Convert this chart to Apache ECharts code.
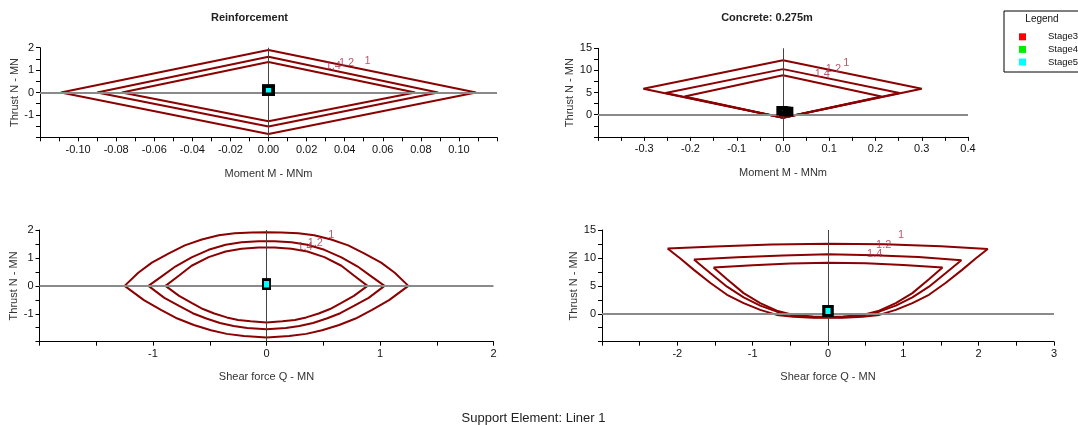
<!DOCTYPE html>
<html><head><meta charset="utf-8">
<script src="https://cdn.jsdelivr.net/npm/echarts@6/dist/echarts.min.js"></script>
<style>html,body{margin:0;padding:0;background:#fff}#c{width:1078px;height:425px}</style>
</head><body><div id="c"></div>
<script>
// ---------------- data ----------------
const stageNames = ['Stage3', 'Stage4', 'Stage5'];
const fsLabels = ['1', '1.2', '1.4'];

// Reinforcement: Moment M (MNm) vs Thrust N (MN)
const reinfMN_fs1  = [[0,1.90],[0.109,0],[0,-1.85],[-0.109,0],[0,1.90]];
const reinfMN_fs12 = [[0,1.60],[0.089,0],[0,-1.52],[-0.090,0],[0,1.60]];
const reinfMN_fs14 = [[0,1.36],[0.077,0],[0,-1.28],[-0.077,0],[0,1.36]];
const reinfMN_stage = [[0,0.10],[0,0.10],[0,0.10]];
const reinfMN_fsPos = [[0.052,1.42],[0.041,1.32],[0.034,1.20]];

// Concrete: Moment M (MNm) vs Thrust N (MN)
const concMN_fs1  = [[0,12.3],[0.300,5.85],[0,-0.7],[-0.302,5.85],[0,12.3]];
const concMN_fs12 = [[0,10.3],[0.252,4.9],[0,-0.7],[-0.254,4.9],[0,10.3]];
const concMN_fs14 = [[0,8.9],[0.213,4.1],[0,-0.7],[-0.213,4.1],[0,8.9]];
const concMN_stage = [[0.010,0.7],[0.004,0.8],[-0.002,0.9]];
const concMN_fsPos = [[0.137,11.8],[0.109,10.25],[0.085,9.2]];

// Reinforcement: Shear force Q (MN) vs Thrust N (MN)
const reinfQN_fs1 = [[-1.25,0],[-1.13,0.47],[-1.01,0.83],[-0.86,1.16],[-0.72,1.45],[-0.57,1.66],[-0.42,1.81],[-0.28,1.88],[-0.13,1.91],[0,1.92],[0.13,1.91],[0.28,1.88],[0.42,1.81],[0.57,1.66],[0.72,1.45],[0.86,1.16],[1.01,0.83],[1.13,0.47],[1.25,0],
  [1.08,-0.51],[0.93,-0.86],[0.785,-1.17],[0.64,-1.40],[0.49,-1.59],[0.35,-1.72],[0.2,-1.80],[0,-1.85],[-0.2,-1.80],[-0.35,-1.72],[-0.49,-1.59],[-0.64,-1.40],[-0.785,-1.17],[-0.93,-0.86],[-1.08,-0.51],[-1.25,0]];
const reinfQN_fs12 = [[-1.04,0],[-0.92,0.35],[-0.80,0.70],[-0.66,1.02],[-0.51,1.29],[-0.36,1.47],[-0.22,1.56],[-0.07,1.60],[0.07,1.60],[0.22,1.56],[0.36,1.47],[0.51,1.29],[0.66,1.02],[0.80,0.70],[0.92,0.35],[1.04,0],
  [0.90,-0.43],[0.77,-0.72],[0.65,-0.98],[0.53,-1.17],[0.41,-1.33],[0.29,-1.44],[0.17,-1.51],[0,-1.55],[-0.17,-1.51],[-0.29,-1.44],[-0.41,-1.33],[-0.53,-1.17],[-0.65,-0.98],[-0.77,-0.72],[-0.90,-0.43],[-1.04,0]];
const reinfQN_fs14 = [[-0.89,0],[-0.77,0.37],[-0.66,0.72],[-0.51,1.03],[-0.36,1.23],[-0.22,1.33],[-0.07,1.37],[0.07,1.37],[0.22,1.33],[0.36,1.23],[0.51,1.03],[0.66,0.72],[0.77,0.37],[0.89,0],
  [0.77,-0.36],[0.66,-0.61],[0.56,-0.83],[0.46,-0.99],[0.35,-1.13],[0.25,-1.22],[0.14,-1.27],[0,-1.31],[-0.14,-1.27],[-0.25,-1.22],[-0.35,-1.13],[-0.46,-0.99],[-0.56,-0.83],[-0.66,-0.61],[-0.77,-0.36],[-0.89,0]];
const reinfQN_stage = [[0,0.06],[0,0.06],[0,0.06]];
const reinfQN_fsPos = [[0.57,1.82],[0.43,1.54],[0.34,1.40]];

// Concrete: Shear force Q (MN) vs Thrust N (MN)
const concQN_fs1 = [[-2.13,11.7],[-1.5,12.05],[-0.75,12.4],[0,12.55],[0.75,12.45],[1.5,12.1],[2.12,11.6],
  [1.96,9.9],[1.78,7.86],[1.56,5.5],[1.34,3.4],[1.12,1.9],[0.9,0.7],[0.68,-0.2],[0.46,-0.55],[0.2,-0.7],[0,-0.7],[-0.2,-0.7],[-0.46,-0.55],[-0.68,-0.2],[-0.9,0.7],[-1.12,1.9],[-1.34,3.4],[-1.56,5.5],[-1.78,7.86],[-1.96,9.9],[-2.13,11.7]];
const concQN_fs12 = [[-1.78,9.7],[-1.2,10.1],[-0.6,10.45],[0,10.65],[0.6,10.5],[1.2,10.15],[1.77,9.6],
  [1.56,7.25],[1.34,4.85],[1.12,2.95],[0.9,1.45],[0.68,0.38],[0.46,-0.3],[0.2,-0.6],[0,-0.62],[-0.2,-0.6],[-0.46,-0.3],[-0.68,0.38],[-0.9,1.45],[-1.12,2.95],[-1.34,4.85],[-1.56,7.25],[-1.78,9.7]];
const concQN_fs14 = [[-1.52,8.3],[-1.0,8.7],[-0.5,9.0],[0,9.15],[0.5,9.05],[1.0,8.75],[1.52,8.3],
  [1.34,6.2],[1.12,3.7],[0.9,1.9],[0.68,0.55],[0.46,-0.2],[0.2,-0.5],[0,-0.52],[-0.2,-0.5],[-0.46,-0.2],[-0.68,0.55],[-0.9,1.9],[-1.12,3.7],[-1.34,6.2],[-1.52,8.3]];
const concQN_stage = [[0,0.5],[0,0.5],[0,0.5]];
const concQN_fsPos = [[0.97,14.1],[0.74,12.3],[0.62,10.7]];

// ---------------- styling / layout ----------------
const FONT = '"Liberation Sans", Arial, sans-serif';
const stageColors = ['#ff0000', '#00ee00', '#00ffff'];
const envColor = '#8b0000';
const fsColor = '#a8324a';

const chart = echarts.init(document.getElementById('c'), null, {renderer: 'canvas'});

function fmt(d) { return v => (Math.abs(v) < 1e-9 ? 0 : v).toFixed(d); }

function xAxis(gi, min, max, interval, dec, name, showMax, gap) {
  return {
    type: 'value', gridIndex: gi, min, max, interval,
    name, nameLocation: 'middle', nameGap: gap,
    nameTextStyle: {color: '#333', fontSize: 11, fontFamily: FONT},
    axisLine: {onZero: false, lineStyle: {color: '#000', width: 1}},
    axisTick: {length: 4, lineStyle: {color: '#000'}},
    minorTick: {show: true, splitNumber: 2, length: 4, lineStyle: {color: '#000'}},
    splitLine: {show: false}, minorSplitLine: {show: false},
    axisLabel: {showMinLabel: false, showMaxLabel: showMax, formatter: fmt(dec), color: '#111', fontSize: 11, fontFamily: FONT, margin: 7}
  };
}
function yAxis(gi, min, max, interval, gap) {
  return {
    type: 'value', gridIndex: gi, min, max, interval,
    name: 'Thrust N - MN', nameLocation: 'middle', nameGap: gap,
    nameTextStyle: {color: '#333', fontSize: 11, fontFamily: FONT},
    axisLine: {onZero: false, lineStyle: {color: '#000', width: 1}},
    axisTick: {length: 4, lineStyle: {color: '#000'}},
    minorTick: {show: true, splitNumber: 2, length: 4, lineStyle: {color: '#000'}},
    splitLine: {show: false}, minorSplitLine: {show: false},
    axisLabel: {showMinLabel: false, formatter: fmt(0), color: '#111', fontSize: 11, fontFamily: FONT, margin: 6}
  };
}

const series = [];
function addChart(gi, envs, stagePts, fsPos, sym) {
  series.push({
    type: 'line', xAxisIndex: gi, yAxisIndex: gi, data: [], z: 1, silent: true,
    markLine: {silent: true, symbol: ['none', 'none'], label: {show: false}, animation: false,
      data: [
        {xAxis: 0, lineStyle: {color: '#444', width: 1, type: 'solid'}},
        {yAxis: 0, lineStyle: {color: '#8a8a8a', width: 2, type: 'solid'}}
      ]}
  });
  envs.forEach((d, i) => series.push({
    type: 'line', name: 'FS ' + fsLabels[i], xAxisIndex: gi, yAxisIndex: gi, data: d,
    symbol: 'none', showSymbol: false, silent: true, z: 3,
    lineStyle: {color: envColor, width: 2}
  }));
  series.push({
    type: 'scatter', xAxisIndex: gi, yAxisIndex: gi, silent: true, z: 4,
    data: fsPos.map((p, i) => ({value: p, name: fsLabels[i]})),
    symbolSize: 1, itemStyle: {color: 'rgba(0,0,0,0)'},
    label: {show: true, position: 'inside', formatter: '{b}', color: fsColor, fontSize: 11, fontFamily: FONT}
  });
  stagePts.forEach((p, i) => series.push({
    type: 'scatter', name: stageNames[i], xAxisIndex: gi, yAxisIndex: gi, data: [p], z: 5,
    symbol: 'rect', symbolSize: sym.size,
    itemStyle: {color: stageColors[i], borderColor: '#000', borderWidth: sym.bw, opacity: 1}
  }));
}

addChart(0, [reinfMN_fs1, reinfMN_fs12, reinfMN_fs14], reinfMN_stage, reinfMN_fsPos, {size: [9, 8], bw: 3.5});
addChart(1, [concMN_fs1, concMN_fs12, concMN_fs14], concMN_stage, concMN_fsPos, {size: [6, 5], bw: 5});
addChart(2, [reinfQN_fs1, reinfQN_fs12, reinfQN_fs14], reinfQN_stage, reinfQN_fsPos, {size: [7, 9], bw: 2.2});
addChart(3, [concQN_fs1, concQN_fs12, concQN_fs14], concQN_stage, concQN_fsPos, {size: [8, 9], bw: 3});

const option = {
  animation: false,
  backgroundColor: '#fff',
  textStyle: {fontFamily: FONT},
  grid: [
    {left: 40, top: 47.7, width: 457, height: 89.6},
    {left: 598, top: 48.3, width: 370, height: 88.6},
    {left: 39.5, top: 230, width: 454, height: 111.7},
    {left: 602, top: 230, width: 452, height: 111.7}
  ],
  xAxis: [
    xAxis(0, -0.12, 0.12, 0.02, 2, 'Moment M - MNm', false, 31),
    xAxis(1, -0.4, 0.4, 0.1, 1, 'Moment M - MNm', true, 31),
    xAxis(2, -2, 2, 1, 0, 'Shear force Q - MN', true, 30),
    xAxis(3, -3, 3, 1, 0, 'Shear force Q - MN', true, 30)
  ],
  yAxis: [
    yAxis(0, -2, 2, 1, 14),
    yAxis(1, -5, 15, 5, 17),
    yAxis(2, -2, 2, 1, 14),
    yAxis(3, -5, 15, 5, 18)
  ],
  legend: {
    data: stageNames, orient: 'vertical', left: 1014, top: 25.5,
    icon: 'rect', itemWidth: 7, itemHeight: 7, itemGap: 0, selectedMode: false,
    itemStyle: {borderWidth: 0},
    textStyle: {fontSize: 9.5, lineHeight: 12.6, color: '#111', fontFamily: FONT, padding: [0, 0, 0, 17]}
  },
  graphic: [
    {type: 'rect', left: 1003.5, top: 10.5, shape: {width: 120, height: 61}, style: {fill: '#fff', stroke: '#000', lineWidth: 1}, z: -1},
    {type: 'text', x: 1042, y: 19, style: {text: 'Legend', fontSize: 10, fontFamily: FONT, fill: '#111', textAlign: 'center', textVerticalAlign: 'middle'}},
    {type: 'text', x: 249.5, y: 18, style: {text: 'Reinforcement', fontSize: 11, fontWeight: 'bold', fontFamily: FONT, fill: '#222', textAlign: 'center', textVerticalAlign: 'middle'}},
    {type: 'text', x: 767, y: 18, style: {text: 'Concrete: 0.275m', fontSize: 11, fontWeight: 'bold', fontFamily: FONT, fill: '#222', textAlign: 'center', textVerticalAlign: 'middle'}},
    {type: 'text', x: 533.5, y: 418, style: {text: 'Support Element: Liner 1', fontSize: 13, fontFamily: FONT, fill: '#222', textAlign: 'center', textVerticalAlign: 'middle'}}
  ],
  series
};
chart.setOption(option);
</script>
</body></html>
